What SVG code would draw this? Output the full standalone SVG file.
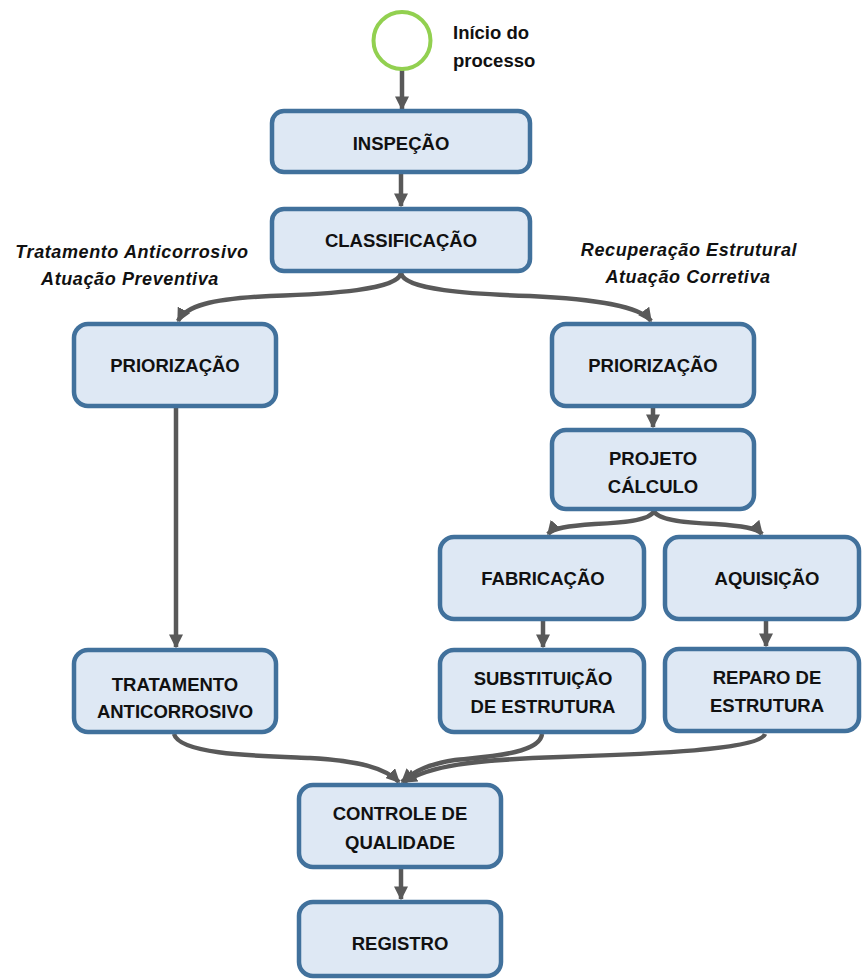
<svg xmlns="http://www.w3.org/2000/svg" width="862" height="980" viewBox="0 0 862 980">
<defs>
<marker id="ah" viewBox="0 0 10 10" refX="9" refY="5" markerWidth="14" markerHeight="14" markerUnits="userSpaceOnUse" orient="auto">
<path d="M0,0 L10,5 L0,10 z" fill="#595959"/>
</marker>
<style>
.box{fill:#DEE8F4;stroke:#41719C;stroke-width:4.5}
.lbl{font-family:"Liberation Sans",Arial,sans-serif;font-weight:bold;font-size:18.5px;fill:#111;text-anchor:middle}
.it{font-family:"Liberation Sans",Arial,sans-serif;font-weight:bold;font-style:italic;font-size:18px;fill:#111;text-anchor:middle;letter-spacing:0.6px}
.start{font-family:"Liberation Sans",Arial,sans-serif;font-weight:bold;font-size:18.5px;fill:#111}
.c{fill:none;stroke:#595959;stroke-width:4.5;marker-end:url(#ah)}
</style>
</defs>
<rect width="862" height="980" fill="#fff"/>
<g id="connectors">
<path class="c" d="M402,70 L402,109"/>
<path class="c" d="M401,174 L401,206"/>
<path class="c" d="M401,273 C398,290 330,294 270,296 C210,299 186,306 178,321"/>
<path class="c" d="M401,273 C404,290 470,294 530,296 C595,299 640,306 651,321"/>
<path class="c" d="M176,408 L176,647"/>
<path class="c" d="M653,408 L653,427"/>
<path class="c" d="M654,511 C650,521 620,523 595,524 C568,526 553,528 548,534"/>
<path class="c" d="M654,511 C658,521 690,523 715,524 C742,526 757,528 762,534"/>
<path class="c" d="M543,621 L543,647"/>
<path class="c" d="M766,621 L766,646"/>
<path class="c" d="M174,734 C180,755 260,756 310,758 C360,761 385,768 399,782"/>
<path class="c" d="M542,734 C540,755 480,757 455,760 C430,764 415,770 402,782"/>
<path class="c" d="M765,734 C760,750 650,754 560,757 C470,760 430,766 404,782"/>
<path class="c" d="M401,869 L401,899"/>
</g>
<g id="start">
<circle cx="402" cy="40.5" r="28.5" fill="#fff" stroke="#92D050" stroke-width="4"/>
<text class="start" x="453" y="39">Início do</text>
<text class="start" x="453" y="67">processo</text>
</g>
<g id="label-left">
<text class="it" x="132" y="258">Tratamento Anticorrosivo</text>
<text class="it" x="130" y="285">Atuação Preventiva</text>
</g>
<g id="label-right">
<text class="it" x="689" y="256">Recuperação Estrutural</text>
<text class="it" x="688" y="283">Atuação Corretiva</text>
</g>
<g id="inspecao">
<rect class="box" x="272" y="111" width="258" height="61" rx="12"/>
<text class="lbl" x="401" y="150">INSPEÇÃO</text>
</g>
<g id="classificacao">
<rect class="box" x="272" y="209" width="258" height="62" rx="12"/>
<text class="lbl" x="401" y="247">CLASSIFICAÇÃO</text>
</g>
<g id="priorizacao-esq">
<rect class="box" x="74" y="324" width="202" height="82" rx="14"/>
<text class="lbl" x="175" y="372">PRIORIZAÇÃO</text>
</g>
<g id="priorizacao-dir">
<rect class="box" x="552" y="324" width="202" height="82" rx="14"/>
<text class="lbl" x="653" y="372">PRIORIZAÇÃO</text>
</g>
<g id="projeto">
<rect class="box" x="552" y="430" width="202" height="79" rx="14"/>
<text class="lbl" x="653" y="465">PROJETO</text>
<text class="lbl" x="653" y="493">CÁLCULO</text>
</g>
<g id="fabricacao">
<rect class="box" x="440" y="537" width="204" height="82" rx="14"/>
<text class="lbl" x="543" y="585">FABRICAÇÃO</text>
</g>
<g id="aquisicao">
<rect class="box" x="665" y="537" width="194" height="82" rx="14"/>
<text class="lbl" x="767" y="585">AQUISIÇÃO</text>
</g>
<g id="tratamento">
<rect class="box" x="74" y="650" width="202" height="82" rx="14"/>
<text class="lbl" x="175" y="691">TRATAMENTO</text>
<text class="lbl" x="175" y="718">ANTICORROSIVO</text>
</g>
<g id="substituicao">
<rect class="box" x="440" y="650" width="204" height="82" rx="14"/>
<text class="lbl" x="543" y="685">SUBSTITUIÇÃO</text>
<text class="lbl" x="543" y="713">DE ESTRUTURA</text>
</g>
<g id="reparo">
<rect class="box" x="665" y="649" width="194" height="82" rx="14"/>
<text class="lbl" x="767" y="684">REPARO DE</text>
<text class="lbl" x="767" y="712">ESTRUTURA</text>
</g>
<g id="controle">
<rect class="box" x="299" y="785" width="202" height="82" rx="14"/>
<text class="lbl" x="400" y="820">CONTROLE DE</text>
<text class="lbl" x="400" y="849">QUALIDADE</text>
</g>
<g id="registro">
<rect class="box" x="299" y="902" width="202" height="74" rx="14"/>
<text class="lbl" x="400" y="950">REGISTRO</text>
</g>
</svg>
